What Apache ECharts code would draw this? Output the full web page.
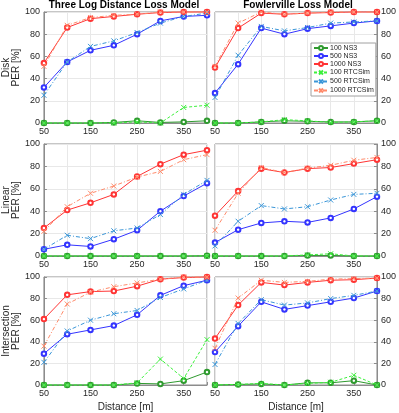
<!DOCTYPE html>
<html><head><meta charset="utf-8">
<script src="https://cdn.jsdelivr.net/npm/echarts@6/dist/echarts.min.js"></script>
<style>html,body{margin:0;padding:0;background:#fff}#c{width:399px;height:413px}</style>
</head><body><div id="c"></div>
<script>
const distances = [50, 100, 150, 200, 250, 300, 350, 400];
const seriesNames = ['100 NS3', '500 NS3', '1000 NS3', '100 RTCSim', '500 RTCSim', '1000 RTCSim'];
const panelTitles = ['Three Log Distance Loss Model', 'Fowlerville Loss Model'];
const rowNames = ['Disk\nPER [%]', 'Linear\nPER [%]', 'Intersection\nPER [%]'];
const yTicks = [0, 20, 40, 60, 80, 100];

// Disk - Three Log Distance
const diskTL_100ns3 = [0, 0, 0, 0.5, 2, 0.5, 1, 2];
const diskTL_500ns3 = [32, 55, 65.5, 70, 80, 92, 96, 97];
const diskTL_1000ns3 = [54, 86, 94, 96, 98, 99.5, 100, 100];
const diskTL_100rtc = [0, 0, 0, 0, 1, 0, 14, 16];
const diskTL_500rtc = [25, 55, 69, 74, 81.5, 90, 96, 99];
const diskTL_1000rtc = [51, 88, 95, 97, 98, 100, 100, 100];

// Disk - Fowlerville
const diskFV_100ns3 = [0, 0, 1, 2, 1.5, 1, 1, 2];
const diskFV_500ns3 = [27, 53, 85.5, 80, 85, 87.5, 90, 92];
const diskFV_1000ns3 = [50, 85.5, 99, 98, 99, 99.5, 100, 100];
const diskFV_100rtc = [0, 0, 1, 3, 2, 0.5, 1, 2];
const diskFV_500rtc = [23, 61, 87, 83, 86, 90, 91, 92];
const diskFV_1000rtc = [51, 90, 100, 98, 99, 100, 100, 100];

// Linear - Three Log Distance
const linTL_100ns3 = [0, 0, 0, 0, 0, 0, 0, 0.3];
const linTL_500ns3 = [6, 10, 8.5, 15, 23, 40, 53.5, 65];
const linTL_1000ns3 = [25, 41, 47.5, 55, 71, 82, 90.5, 94.5];
const linTL_100rtc = [0, 0, 0, 0, 0, 0, 0, 0];
const linTL_500rtc = [6, 18.5, 15.5, 22.5, 25, 37, 55, 67.5];
const linTL_1000rtc = [22, 44, 56, 62.5, 70.5, 75.5, 86, 90.5];

// Linear - Fowlerville
const linFV_100ns3 = [0, 0, 0, 0, 0.5, 0.5, 0, 0];
const linFV_500ns3 = [12, 23.5, 29.5, 31, 30, 34, 42, 53];
const linFV_1000ns3 = [36, 58, 78, 74.5, 78, 79, 82.5, 86];
const linFV_100rtc = [0, 0, 0, 0, 1, 2, 0, 0];
const linFV_500rtc = [9, 31, 45, 42, 44, 50, 55, 56];
const linFV_1000rtc = [23, 56, 79, 74.5, 78.5, 81, 85.5, 88];

// Intersection - Three Log Distance
const intTL_100ns3 = [0, 0, 0, 0, 1.5, 1, 4, 12];
const intTL_500ns3 = [29, 47, 51, 55, 65, 83, 92, 97];
const intTL_1000ns3 = [61, 83.5, 86.5, 87, 91.5, 98, 99.5, 100];
const intTL_100rtc = [0, 0, 0, 0, 2, 24, 6, 42];
const intTL_500rtc = [21, 50, 60, 66, 69, 81, 89, 97];
const intTL_1000rtc = [36, 75, 86, 91, 94.5, 98, 100, 100];

// Intersection - Fowlerville
const intFV_100ns3 = [0, 0.5, 1, 0, 2, 2, 4, 0];
const intFV_500ns3 = [30.5, 54.5, 77, 70, 73.5, 77, 80.5, 87];
const intFV_1000ns3 = [43, 74, 95, 92.5, 95, 97, 97.5, 99];
const intFV_100rtc = [0, 0.5, 1.5, 0, 1.5, 2.5, 9, 0];
const intFV_500rtc = [19, 57, 79, 74, 76, 80, 83, 87];
const intFV_1000rtc = [34, 80.5, 97, 95, 96, 98, 98.5, 99];

const panels = [
  [diskTL_100ns3, diskTL_500ns3, diskTL_1000ns3, diskTL_100rtc, diskTL_500rtc, diskTL_1000rtc],
  [diskFV_100ns3, diskFV_500ns3, diskFV_1000ns3, diskFV_100rtc, diskFV_500rtc, diskFV_1000rtc],
  [linTL_100ns3, linTL_500ns3, linTL_1000ns3, linTL_100rtc, linTL_500rtc, linTL_1000rtc],
  [linFV_100ns3, linFV_500ns3, linFV_1000ns3, linFV_100rtc, linFV_500rtc, linFV_1000rtc],
  [intTL_100ns3, intTL_500ns3, intTL_1000ns3, intTL_100rtc, intTL_500rtc, intTL_1000rtc],
  [intFV_100ns3, intFV_500ns3, intFV_1000ns3, intFV_100rtc, intFV_500rtc, intFV_1000rtc]
];

const colors = ['#2f9a2f', '#3434ff', '#ff3434', '#3cf03c', '#3a96d8', '#ff8a6a'];
const lineTypes = ['solid', 'solid', 'solid', [3, 2], [4, 2, 1, 2], [4, 2, 1, 2]];
const xPath = 'path://M0,0L10,10M10,0L0,10';
const FONT = 'Liberation Sans';
const TXT = '#262626';
const AX = '#8c8c8c';

const gridBoxes = [
  {left: 42, top: 12, width: 165, height: 111},
  {left: 215, top: 12, width: 166, height: 111},
  {left: 42, top: 144, width: 165, height: 112},
  {left: 215, top: 144, width: 166, height: 112},
  {left: 42, top: 277, width: 165, height: 111},
  {left: 215, top: 277, width: 166, height: 111}
];

const grid = gridBoxes.map(g => Object.assign({show: true, borderColor: AX, borderWidth: 1, backgroundColor: '#fff'}, g));

const xAxis = gridBoxes.map((g, i) => ({
  type: 'value', gridIndex: i, min: 50, max: 400, interval: 50,
  axisLine: {show: true, lineStyle: {color: AX}},
  axisTick: {show: true, inside: true, length: 3, lineStyle: {color: AX}},
  splitLine: {show: true, lineStyle: {color: '#e8e8e8'}},
  axisLabel: {color: TXT, fontFamily: FONT, fontSize: 9, margin: 4,
    formatter: v => ((v - 50) % 100 === 0 && v < 400) ? String(v) : ''},
  name: i >= 4 ? 'Distance [m]' : '', nameLocation: 'middle', nameGap: 17,
  nameTextStyle: {color: TXT, fontFamily: FONT, fontSize: 10}
}));

const yAxis = gridBoxes.map((g, i) => ({
  type: 'value', gridIndex: i, min: 0, max: 100, interval: 20,
  position: i % 2 === 0 ? 'left' : 'right',
  axisLine: {show: true, lineStyle: {color: AX}},
  axisTick: {show: true, inside: true, length: 3, lineStyle: {color: AX}},
  splitLine: {show: true, lineStyle: {color: '#e8e8e8'}},
  axisLabel: {color: TXT, fontFamily: FONT, fontSize: 9, margin: 4},
  name: i % 2 === 0 ? rowNames[i / 2] : '', nameLocation: 'middle', nameGap: 21,
  nameTextStyle: {color: TXT, fontFamily: FONT, fontSize: 10, lineHeight: 10}
}));

const series = [];
panels.forEach((sets, p) => {
  sets.forEach((vals, k) => {
    const rtc = k >= 3;
    series.push({
      name: seriesNames[k], type: 'line', xAxisIndex: p, yAxisIndex: p,
      data: distances.map((d, j) => [d, vals[j]]),
      symbol: rtc ? xPath : 'emptyCircle', symbolSize: rtc ? 5 : 4.5,
      showAllSymbol: true, animation: false, clip: false,
      lineStyle: {color: colors[k], width: 1, type: lineTypes[k]},
      itemStyle: rtc ? {color: 'none', borderColor: colors[k], borderWidth: 1} : {color: colors[k], borderColor: colors[k], borderWidth: 1},
      z: 2 + k
    });
  });
});

const option = {
  backgroundColor: '#fff',
  animation: false,
  title: [
    {text: panelTitles[0], left: 124, top: 0, padding: 0, textAlign: 'center',
      textStyle: {fontFamily: FONT, fontSize: 10, fontWeight: 'bold', color: '#000', lineHeight: 10}},
    {text: panelTitles[1], left: 298, top: 0, padding: 0, textAlign: 'center',
      textStyle: {fontFamily: FONT, fontSize: 10, fontWeight: 'bold', color: '#000', lineHeight: 10}}
  ],
  legend: {
    data: seriesNames, orient: 'vertical', left: 311, top: 43,
    backgroundColor: '#fff', borderColor: '#a0a0a0', borderWidth: 1,
    padding: [1, 2, 1, 2], itemGap: 0, itemWidth: 14, itemHeight: 5,
    textStyle: {fontFamily: FONT, fontSize: 7, color: TXT, lineHeight: 8, padding: [0, 0, 0, -3]}
  },
  grid, xAxis, yAxis, series
};

const chart = echarts.init(document.getElementById('c'), null, {renderer: 'canvas'});
chart.setOption(option);
</script>
</body></html>
